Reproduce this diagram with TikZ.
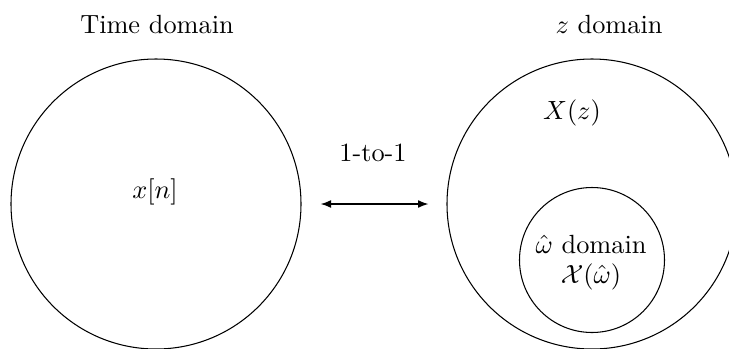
\documentclass[tikz,border=0pt]{standalone}
\usepackage{amsmath, amssymb}
\usepackage{tikz}
\usetikzlibrary{arrows.meta, positioning}

\begin{document}
\begin{tikzpicture}[
  x=0.38pt, y=-0.38pt,
  domainbox/.style={draw, circle, inner sep=0pt, minimum size=110.2pt},
  subbox/.style={draw, circle, inner sep=0pt, minimum size=55.1pt},
  txt/.style={inner sep=0pt, font=\normalsize},
  arrow/.style={{Latex[length=4pt]}-{Latex[length=4pt]}, semithick},
]
  \useasboundingbox (0,0) rectangle (729,348);

  % the two domains
  \node[domainbox] (time) at (156,204) {};
  \node[domainbox] (zdom) at (592,204) {};
  \node[subbox] (wdom) at (592,260) {};

  % titles
  \node[txt] (ttitle) at (157,25) {Time domain};
  \node[txt] (ztitle) at (609,25) {$z$ domain};

  % contents
  \node[txt] (xn) at (155,192) {$x[n]$};
  \node[txt] (xz) at (572,113) {$X(z)$};
  \node[txt] (wtitle) at (591,245) {$\hat{\omega}$ domain};
  \node[txt] (xw) at (591,277) {$\mathcal{X}(\hat{\omega})$};

  % mapping
  \draw[arrow, shorten <=7.2pt, shorten >=6.8pt] (time) -- (zdom);
  \node[txt] (map) at (373,153) {1-to-1};
\end{tikzpicture}
\end{document}
